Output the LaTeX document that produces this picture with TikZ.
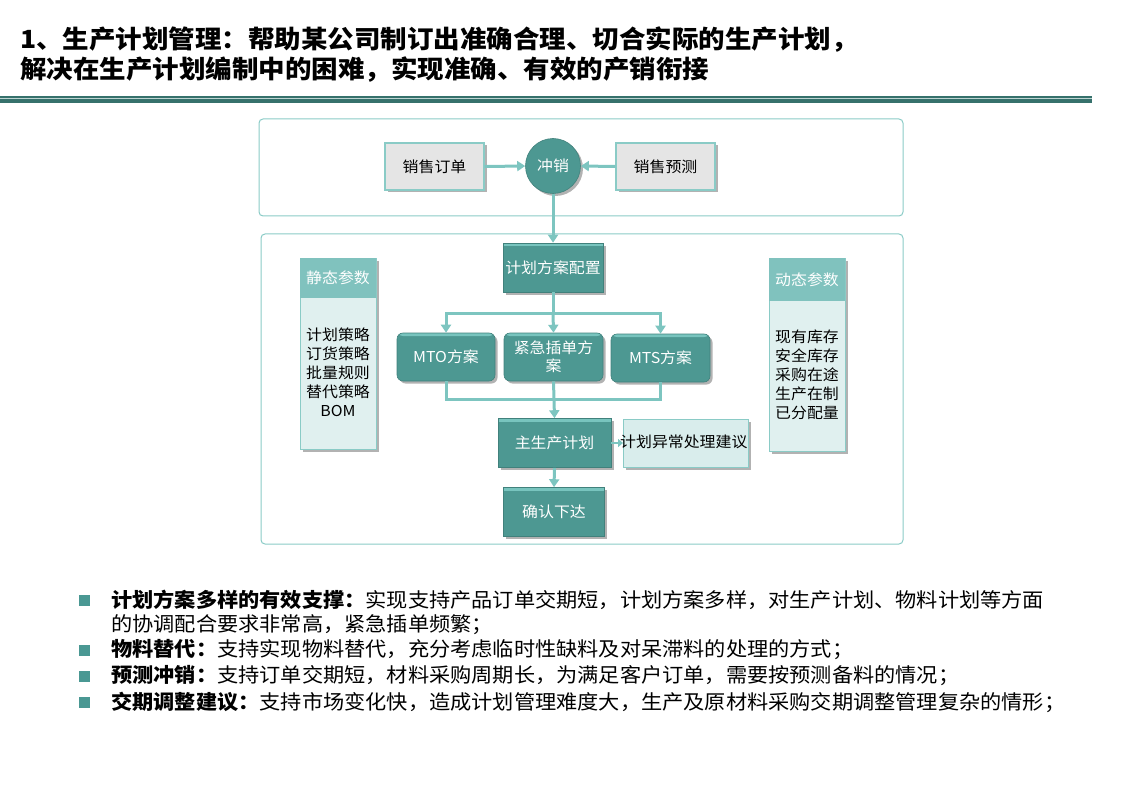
\documentclass[tikz,border=0pt]{standalone}
\usepackage{fontspec}
\setmainfont{Noto Sans CJK SC}[FakeStretch=1.06]
\usetikzlibrary{arrows.meta,shadows,positioning}
\definecolor{tealdark}{RGB}{77,152,146}
\definecolor{tealline}{RGB}{125,197,192}
\definecolor{tealbevel}{RGB}{120,196,190}
\definecolor{panelhead}{RGB}{128,194,190}
\definecolor{panelbody}{RGB}{224,240,239}
\definecolor{grayfill}{RGB}{229,229,229}
\definecolor{boxborder}{RGB}{138,203,198}
\definecolor{suggfill}{RGB}{217,237,236}
\definecolor{ruledark}{RGB}{54,113,108}
\definecolor{rulelight}{RGB}{190,212,210}
\definecolor{bulletc}{RGB}{74,152,147}
\tikzset{
  myshadow/.style={drop shadow={shadow xshift=2.5pt,shadow yshift=-2.5pt,fill=black,opacity=0.3}},
  darkbox/.style={myshadow,fill=tealdark,draw=tealdark!85!black,line width=0.6pt,text=white,
    inner sep=0pt,font=\fontsize{15}{18}\selectfont,align=center,
    path picture={\fill[tealbevel] (path picture bounding box.north west) rectangle ([yshift=-3pt]path picture bounding box.north east);}},
  graybox/.style={myshadow,fill=grayfill,draw=boxborder,line width=1.2pt,text=black,
    inner sep=0pt,minimum width=99pt,minimum height=47pt,font=\fontsize{15}{18}\selectfont},
  conn/.style={draw=tealline,line width=3pt},
  arr/.style={conn,-{Triangle[length=8pt,width=10pt]}},
  frame/.style={draw=boxborder,line width=1pt,rounded corners=4pt},
  phead/.style={fill=panelhead,text=white,inner sep=0pt,font=\fontsize{15}{18}\selectfont},
  pbody/.style={myshadow,fill=panelbody,draw=boxborder,line width=1pt},
  ptext/.style={align=center,inner sep=0pt,font=\fontsize{15}{19}\selectfont},
  bsq/.style={fill=bulletc,minimum size=11pt,inner sep=0pt},
  btext/.style={anchor=west,inner sep=0pt,font=\fontsize{20}{23.5}\selectfont,align=left},
}
\begin{document}
\begin{tikzpicture}[x=1pt,y=-1pt]
\path[use as bounding box] (0,0) rectangle (1123,794);
% title
\node[anchor=west,inner sep=0pt,align=left,font=\fontsize{25}{30}\bfseries\selectfont] (title) at (20,55)
  {1、生产计划管理：帮助某公司制订出准确合理、切合实际的生产计划，\\解决在生产计划编制中的困难，实现准确、有效的产销衔接};
% header rule
\fill[ruledark] (0,96.5) rectangle (1092,97.7);
\fill[rulelight] (0,97.7) rectangle (1092,99.3);
\fill[ruledark] (0,99.3) rectangle (1092,103);
% frames
\draw[frame] (259,119) rectangle (903,216);
\draw[frame] (261,234) rectangle (903,544);
% top row
\node[graybox] (xsdd) at (434.5,166.5) {销售订单};
\node[graybox] (xsyc) at (665.5,166.5) {销售预测};
\node[circle,fill=tealdark,draw=tealdark!85!black,line width=0.6pt,minimum size=55pt,inner sep=0pt,
  text=white,font=\fontsize{15}{18}\selectfont,myshadow] (cx) at (553,166) {冲销};
% main flow
\node[darkbox,minimum width=100pt,minimum height=49pt] (jhpz) at (553,267.5) {计划方案配置};
\node[darkbox,rounded corners=6pt,minimum width=98pt,minimum height=48pt] (mto) at (446,357) {MTO方案};
\node[darkbox,rounded corners=6pt,minimum width=99pt,minimum height=48pt,text width=99pt] (jj) at (553.5,357) {紧急插单方\\案};
\node[darkbox,rounded corners=6pt,minimum width=99pt,minimum height=48pt] (mts) at (660.5,358) {MTS方案};
\node[darkbox,minimum width=113pt,minimum height=49pt] (zsc) at (554.5,443) {主生产计划};
\node[myshadow,fill=suggfill,draw=boxborder,line width=1pt,minimum width=125pt,minimum height=48pt,
  inner sep=0pt,font=\fontsize{15}{18}\selectfont] (yc) at (686,443) {};
\node[inner sep=0pt,font=\fontsize{15}{18}\selectfont,anchor=west] (yct) at (620,442) {计划异常处理建议};
\node[darkbox,minimum width=101pt,minimum height=49pt] (qr) at (554,512) {确认下达};
% connectors
\draw[arr] (xsdd.east) -- (cx.west);
\draw[arr] (xsyc.west) -- (cx.east);
\draw[arr] (cx.south) -- (jhpz.north);
\coordinate (split) at (553,313);
\coordinate (join) at (553,399);
\draw[conn] (jhpz.south) -- (split);
\draw[arr] (split) -| (mto.north);
\draw[arr] (split) -| (mts.north);
\draw[arr] (split) -- (jj.north);
\draw[conn] (mto.south) |- (join);
\draw[conn] (mts.south) |- (join);
\draw[arr] (jj.south) -- (zsc.north);
\draw[arr,line width=2.5pt,-{Triangle[length=5pt,width=8pt]}] (zsc.east) -- (yc.west);
\draw[arr] (zsc.south) -- (qr.north);
% static panel
\node[pbody,minimum width=76pt,minimum height=191pt,inner sep=0pt] (sp) at (338,353.5) {};
\node[phead,minimum width=76pt,minimum height=40pt] (sph) at (338,278) {静态参数};
\node[ptext] (spt) at (338,372) {计划策略\\订货策略\\批量规则\\替代策略\\BOM};
% dynamic panel
\node[pbody,minimum width=76pt,minimum height=193pt,inner sep=0pt] (dp) at (807,354.5) {};
\node[phead,minimum width=76pt,minimum height=43pt] (dph) at (807,279.5) {动态参数};
\node[ptext] (dpt) at (807,375) {现有库存\\安全库存\\采购在途\\生产在制\\已分配量};
% bullets
\node[bsq] (b1) at (84,600) {};
\node[bsq] (b2) at (84,650) {};
\node[bsq] (b3) at (84,676) {};
\node[bsq] (b4) at (84,702) {};
\node[btext] (t1) at (111,612.5) {{\bfseries 计划方案多样的有效支撑：}实现支持产品订单交期短，计划方案多样，对生产计划、物料计划等方面\\的协调配合要求非常高，紧急插单频繁；};
\node[btext] (t2) at (111,650) {{\bfseries 物料替代：}支持实现物料替代，充分考虑临时性缺料及对呆滞料的处理的方式；};
\node[btext] (t3) at (111,676) {{\bfseries 预测冲销：}支持订单交期短，材料采购周期长，为满足客户订单，需要按预测备料的情况；};
\node[btext] (t4) at (111,702) {{\bfseries 交期调整建议：}支持市场变化快，造成计划管理难度大，生产及原材料采购交期调整管理复杂的情形；};
\end{tikzpicture}
\end{document}
